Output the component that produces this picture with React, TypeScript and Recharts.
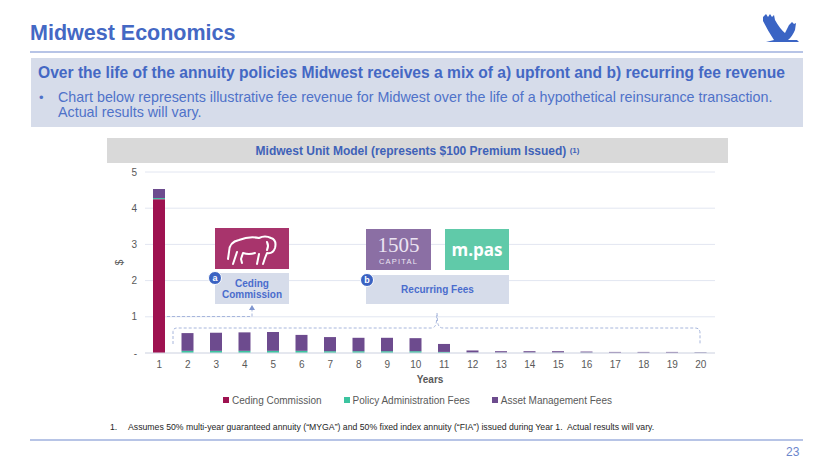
import React from 'react';
import { BarChart, Bar, XAxis, YAxis, CartesianGrid, Legend } from 'recharts';

const FONT = '"Liberation Sans", Arial, sans-serif';
const BLUE = '#4468c4';

const years = ['1', '2', '3', '4', '5', '6', '7', '8', '9', '10', '11', '12', '13', '14', '15', '16', '17', '18', '19', '20'];
const cedingCommission = [4.25, 0, 0, 0, 0, 0, 0, 0, 0, 0, 0, 0, 0, 0, 0, 0, 0, 0, 0, 0];
const policyAdminFees = [0.03, 0.06, 0.06, 0.06, 0.06, 0.06, 0.05, 0.05, 0.05, 0.05, 0.03, 0.01, 0.01, 0.01, 0.01, 0.01, 0.005, 0.005, 0.005, 0.005];
const assetMgmtFees = [0.25, 0.49, 0.5, 0.51, 0.52, 0.44, 0.39, 0.37, 0.37, 0.36, 0.22, 0.06, 0.04, 0.04, 0.04, 0.03, 0.025, 0.025, 0.025, 0.015];
const yTicks = [0, 1, 2, 3, 4, 5];

const seriesInfo = [
  { key: 'ceding', name: 'Ceding Commission', color: '#9e1250' },
  { key: 'policy', name: 'Policy Administration Fees', color: '#3cc4a0' },
  { key: 'asset', name: 'Asset Management Fees', color: '#6d4b8e' },
];

const data = years.map((y, i) => ({
  year: y,
  ceding: cedingCommission[i],
  policy: policyAdminFees[i],
  asset: assetMgmtFees[i],
}));

const LegendContent = () => (
  <div style={{ height: 34, paddingLeft: 30, display: 'flex', justifyContent: 'center', alignItems: 'center', gap: 22, fontSize: 10, color: '#595959', fontFamily: FONT }}>
    {seriesInfo.map(s => (
      <span key={s.key} style={{ display: 'flex', alignItems: 'center' }}>
        <span style={{ width: 6, height: 6, background: s.color, marginRight: 3, display: 'inline-block' }} />
        {s.name}
      </span>
    ))}
  </div>
);

const Badge = ({ letter, x, y }: { letter: string; x: number; y: number }) => (
  <div style={{
    position: 'absolute', left: x - 7, top: y - 7, width: 12, height: 12, borderRadius: '50%',
    background: '#3a62c2', border: '1px solid #fff', color: '#fff', fontSize: 9, fontWeight: 'bold',
    display: 'flex', alignItems: 'center', justifyContent: 'center', lineHeight: 1,
  }}>{letter}</div>
);

const App: React.FC = () => {
  return (
    <div style={{ position: 'absolute', left: 0, top: 0, width: 830, height: 467, background: '#fff', fontFamily: FONT, overflow: 'hidden' }}>
      {/* header */}
      <div style={{ position: 'absolute', left: 30, top: 21, fontSize: 21.5, fontWeight: 'bold', color: BLUE }}>Midwest Economics</div>
      <svg style={{ position: 'absolute', left: 761, top: 12 }} width={40} height={32} viewBox="0 0 40 32">
        <path d="M2 5 L5 2 L7 5 L9 2 L11 5 L13 3 L14 8 Q19 17 24 21 L28 13 L31 10 L33 12 L35 11 L34 18 Q31 25 27 28 L36 28 L38 30 L5 30 L13 28 Q7 19 2 9 Z" fill="#3a64c4" />
      </svg>
      <div style={{ position: 'absolute', left: 30, top: 51, width: 773, height: 2, background: '#b7c4e6' }} />
      <div style={{ position: 'absolute', left: 31, top: 58, width: 772, height: 69, background: '#d6dcea' }} />
      <div style={{ position: 'absolute', left: 38, top: 64, fontSize: 15.6, fontWeight: 'bold', color: BLUE, whiteSpace: 'nowrap' }}>
        Over the life of the annuity policies Midwest receives a mix of a) upfront and b) recurring fee revenue
      </div>
      <div style={{ position: 'absolute', left: 39, top: 90, fontSize: 13, color: '#4f72c9' }}>•</div>
      <div style={{ position: 'absolute', left: 58, top: 90, width: 740, fontSize: 14.3, lineHeight: '15px', color: '#4f72c9' }}>
        Chart below represents illustrative fee revenue for Midwest over the life of a hypothetical reinsurance transaction. Actual results will vary.
      </div>

      {/* chart title band */}
      <div style={{ position: 'absolute', left: 107, top: 138, width: 621, height: 25, background: '#d9d9d9', display: 'flex', alignItems: 'center', justifyContent: 'center', fontSize: 12, fontWeight: 'bold', color: '#3f62b8' }}>
        Midwest Unit Model (represents $100 Premium Issued)&nbsp;<sup style={{ fontSize: 8 }}>(1)</sup>
      </div>

      {/* chart */}
      <div style={{ position: 'absolute', left: 90, top: 160 }}>
        <BarChart width={625} height={257} data={data} margin={{ top: 12, right: 0, left: 0, bottom: 0 }} barSize={12}>
          <CartesianGrid vertical={false} stroke="#e2e6f1" />
          <XAxis
            dataKey="year"
            interval={0}
            tickLine={false}
            axisLine={{ stroke: '#d9dce6' }}
            tick={{ fontSize: 10, fill: '#595959', fontFamily: FONT }}
            height={30}
            label={{ value: 'Years', position: 'insideBottom', offset: 0, fontSize: 10, fontWeight: 'bold', fill: '#595959', fontFamily: FONT }}
          />
          <YAxis
            domain={[0, 5]}
            ticks={yTicks}
            width={55}
            tickLine={false}
            axisLine={false}
            tickFormatter={(v: number) => (v === 0 ? '-' : String(v))}
            tick={{ fontSize: 10, fill: '#595959', fontFamily: FONT }}
            label={{ value: '$', angle: -90, position: 'center', dx: 2, fontSize: 10, fill: '#595959', fontFamily: FONT }}
          />
          <Legend verticalAlign="bottom" content={<LegendContent />} />
          {seriesInfo.map(s => (
            <Bar key={s.key} dataKey={s.key} name={s.name} stackId="a" fill={s.color} isAnimationActive={false} />
          ))}
        </BarChart>
      </div>

      {/* annotations */}
      <svg style={{ position: 'absolute', left: 0, top: 0, pointerEvents: 'none' }} width={830} height={467}>
        <g fill="none" stroke="#a7b6dc" strokeWidth={1} strokeDasharray="3 2">
          <path d="M167 316.5 L252 316.5 L252 309" />
          <path d="M173 344 L173 332 Q173 328 177 328 L431 328 Q436 328 436.5 321 L437 313 M437 313 L437.5 321 Q438 328 443 328 L695 328 Q700 328 700 333 L700 344" />
        </g>
        <path d="M249 310 L252 305 L255 310 Z" fill="#7f95cf" />
      </svg>

      {/* Ceding Commission */}
      <div style={{ position: 'absolute', left: 215, top: 228, width: 74, height: 41, background: '#a8346c' }}>
        <svg width={74} height={41} viewBox="0 0 74 41">
          <g fill="none" stroke="#fff" strokeWidth={2} strokeLinejoin="round" strokeLinecap="round">
            <path d="M14 24 Q14 14 24 12 Q34 8 44 10 Q50 7 56 10 Q62 12 60 20 Q58 26 52 25 L50 30 L48 36 M44 26 L42 36 M40 25 Q34 27 28 25 L26 31 L27 35 M22 24 L18 36 M14 24 L13 31" />
            <path d="M52 14 Q54 18 52 22" />
          </g>
        </svg>
      </div>
      <div style={{ position: 'absolute', left: 215, top: 273, width: 74, height: 31, background: '#d6dcea', color: '#4a6ccd', fontSize: 10, fontWeight: 'bold', lineHeight: '11px', textAlign: 'center', display: 'flex', alignItems: 'center', justifyContent: 'center' }}>
        Ceding<br />Commission
      </div>
      <Badge letter="a" x={215} y={278} />

      {/* Recurring fees */}
      <div style={{ position: 'absolute', left: 366, top: 229, width: 65, height: 41, background: '#8b6fa4', color: '#ece4f2', textAlign: 'center' }}>
        <div style={{ fontFamily: '"Liberation Serif", "DejaVu Serif", serif', fontSize: 21, lineHeight: '24px', marginTop: 4 }}>1505</div>
        <div style={{ fontSize: 7.5, letterSpacing: 1.2, lineHeight: '9px' }}>CAPITAL</div>
      </div>
      <div style={{ position: 'absolute', left: 445, top: 229, width: 64, height: 41, background: '#60caa9', color: '#fff', fontFamily: '"Open Sans", sans-serif', fontWeight: 'bold', fontSize: 17, display: 'flex', alignItems: 'center', justifyContent: 'center' }}>
        m.pas
      </div>
      <div style={{ position: 'absolute', left: 366, top: 275, width: 143, height: 29, background: '#d6dcea', color: '#4a6ccd', fontSize: 10, fontWeight: 'bold', display: 'flex', alignItems: 'center', justifyContent: 'center' }}>
        Recurring Fees
      </div>
      <Badge letter="b" x={367} y={280} />

      {/* footnote */}
      <div style={{ position: 'absolute', left: 110, top: 422, fontSize: 8.7, color: '#262626', whiteSpace: 'nowrap' }}>1.</div>
      <div style={{ position: 'absolute', left: 128, top: 422, fontSize: 8.7, color: '#262626', whiteSpace: 'nowrap' }}>
        Assumes 50% multi-year guaranteed annuity (“MYGA”) and 50% fixed index annuity (“FIA”) issued during Year 1.&nbsp; Actual results will vary.
      </div>
      <div style={{ position: 'absolute', left: 30, top: 439, width: 773, height: 2, background: '#b7c4e6' }} />
      <div style={{ position: 'absolute', left: 786, top: 445, fontSize: 12, color: '#6b86cc' }}>23</div>
    </div>
  );
};

export default App;
